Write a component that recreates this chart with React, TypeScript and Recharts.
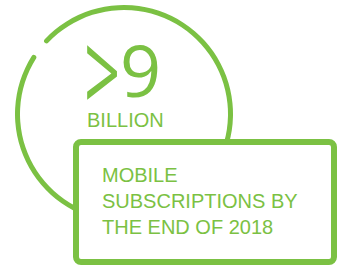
import React from "react";
import { PieChart, Pie, Cell } from "recharts";

// ring segments: the drawn arc and the small gap at upper-left (degrees)
const ringNames = ["arc", "gap"];
const ringValues = [351.5, 8.5];

const headlineSign = ">";
const headlineValue = "9";
const unitLabel = "BILLION";
const captionLines = ["MOBILE", "SUBSCRIPTIONS BY", "THE END OF 2018"];

const GREEN = "#7bc143";
const SANS = "'Liberation Sans', Arial, sans-serif";

const ringData = ringNames.map((name, i) => ({ name, value: ringValues[i] }));

export default function App() {
	return (
		<div style={{ position: "absolute", left: 0, top: 0, width: 344, height: 267 }}>
			<PieChart width={344} height={267} margin={{ top: 0, right: 0, bottom: 0, left: 0 }}>
				<Pie
					data={ringData}
					dataKey="value"
					cx={124}
					cy={114}
					innerRadius={104}
					outerRadius={109}
					startAngle={146.5}
					endAngle={506.5}
					cornerRadius={2.5}
					paddingAngle={0}
					stroke="none"
					isAnimationActive={false}>
					{ringData.map((entry, index) => (
						<Cell
							key={`cell-${index}`}
							fill={entry.name === "gap" ? "none" : GREEN}
						/>
					))}
				</Pie>
			</PieChart>
			<svg
				width={344}
				height={267}
				style={{ position: "absolute", left: 0, top: 0 }}>
				{/* the ">" is tall and narrow in the original type */}
				<text
					transform="translate(84 113) scale(0.88 1.55)"
					fill={GREEN}
					fontFamily="'Open Sans', sans-serif"
					fontWeight={400}
					fontSize={72}>
					{headlineSign}
				</text>
				<text
					x={120}
					y={97}
					fill={GREEN}
					fontFamily="'Open Sans', sans-serif"
					fontWeight={400}
					fontSize={72}>
					{headlineValue}
				</text>
				<text x={87} y={127} fill={GREEN} fontFamily={SANS} fontSize={20}>
					{unitLabel}
				</text>
				<rect
					x={76}
					y={142}
					width={258}
					height={120}
					rx={5}
					ry={5}
					fill="#fff"
					stroke={GREEN}
					strokeWidth={6}
				/>
				{captionLines.map((line, i) => (
					<text
						key={line}
						x={102}
						y={182 + i * 26}
						fill={GREEN}
						fontFamily={SANS}
						fontSize={20}>
						{line}
					</text>
				))}
			</svg>
		</div>
	);
}
